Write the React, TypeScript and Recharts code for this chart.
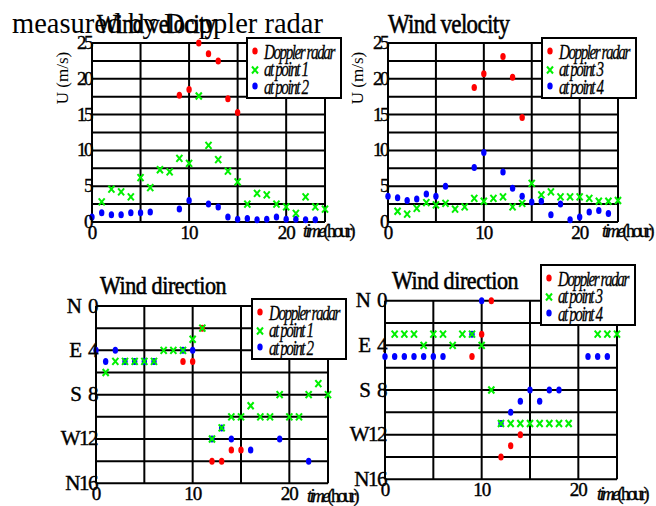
import React from 'react';
import { ScatterChart, Scatter, XAxis, YAxis, ReferenceLine, Legend } from 'recharts';

const W = 656;
const H = 506;
const AXIS_W = 40;
const AXIS_H = 20;
const SERIF = '"Liberation Serif", "Times New Roman", serif';
const RED = '#ff0000';
const GREEN = '#00f000';
const BLUE = '#0000ff';

// axes
const hourTicks = [0, 10, 20];
const hourGrid = [0, 5, 10, 15, 20, 24];
const speedTicks = [0, 5, 10, 15, 20, 25];
const speedGrid = [0, 2.5, 5, 7.5, 10, 12.5, 15, 17.5, 20, 22.5, 25];
const dirTicks = [0, 4, 8, 12, 16];
const dirLabels = ['N  0', 'E  4', 'S  8', 'W12', 'N16'];
const dirGrid = [0, 2, 4, 6, 8, 10, 12, 14, 16];

// wind velocity, left panel (m/s)
const vRadarHoursA = [9, 10, 11, 12, 13, 14, 15];
const vRadarA = [17.7, 18.5, 25, 23.5, 22.5, 17.2, 15.3];
const vPoint1Hours = [1, 2, 3, 4, 5, 6, 7, 8, 9, 10, 11, 12, 13, 14, 15, 16, 17, 18, 19, 20, 21, 22, 23, 24];
const vPoint1 = [2.8, 4.6, 4.2, 3.5, 6.2, 4.8, 7.3, 7.0, 8.9, 8.2, 17.6, 10.7, 8.7, 7.1, 5.6, 2.5, 4.0, 3.8, 2.5, 2.1, 1.2, 3.5, 2.1, 1.8];
const vPoint2Hours = [0, 1, 2, 3, 4, 5, 6, 9, 10, 12, 13, 14, 15, 16, 17, 18, 19, 20, 21, 22, 23];
const vPoint2 = [0.7, 1.3, 1.0, 1.0, 1.3, 1.3, 1.4, 1.8, 3.0, 2.5, 2.1, 0.7, 0.4, 0.5, 0.3, 0.4, 0.7, 0.4, 0.4, 0.3, 0.3];

// wind velocity, right panel (m/s)
const vRadarHoursB = [9, 10, 12, 13, 14];
const vRadarB = [18.8, 20.7, 23.1, 20.2, 14.6];
const vPoint3Hours = [1, 2, 3, 4, 5, 6, 7, 8, 9, 10, 11, 12, 13, 14, 15, 16, 17, 18, 19, 20, 21, 22, 23, 24];
const vPoint3 = [1.5, 1.1, 1.9, 2.7, 2.4, 2.6, 1.8, 2.1, 3.3, 2.9, 3.3, 3.5, 2.1, 2.6, 5.4, 3.8, 4.2, 3.5, 3.5, 3.5, 3.3, 2.9, 2.9, 3.0];
const vPoint4Hours = [0, 1, 2, 3, 4, 5, 6, 9, 10, 12, 13, 14, 15, 16, 17, 18, 19, 20, 21, 22, 23];
const vPoint4 = [3.6, 3.4, 3.0, 3.2, 3.9, 3.6, 5.0, 7.6, 9.7, 7.0, 4.7, 3.6, 2.8, 2.9, 1.0, 2.5, 0.3, 0.7, 1.4, 1.6, 1.2];

// wind direction, left panel (16-point compass index)
const dRadarHoursA = [9, 10, 11, 12, 13, 14, 15];
const dRadarA = [5, 5, 2, 14, 14, 13, 13];
const dPoint1Hours = [1, 2, 3, 4, 5, 6, 7, 8, 9, 10, 11, 12, 13, 14, 15, 16, 17, 18, 19, 20, 21, 22, 23, 24];
const dPoint1 = [6, 5, 5, 5, 5, 5, 4, 4, 4, 3, 2, 12, 11, 10, 10, 9, 10, 10, 8, 10, 10, 8, 7, 8];
const dPoint2Hours = [0, 1, 2, 3, 4, 5, 6, 9, 10, 12, 13, 14, 16, 19, 22];
const dPoint2 = [4, 5, 4, 5, 5, 5, 5, 4, 4, 12, 11, 12, 13, 12, 14];

// wind direction, right panel
const dRadarHoursB = [9, 10, 11, 12, 13, 14];
const dRadarB = [5, 3, 0, 14, 13, 12];
const dPoint3Hours = [1, 2, 3, 4, 5, 6, 7, 8, 9, 10, 11, 12, 13, 14, 15, 16, 17, 18, 19, 22, 23, 24];
const dPoint3 = [3, 3, 3, 4, 3, 3, 4, 3, 3, 4, 8, 11, 11, 11, 11, 11, 11, 11, 11, 3, 3, 3];
const dPoint4Hours = [0, 1, 2, 3, 4, 5, 6, 9, 10, 12, 13, 14, 15, 16, 17, 18, 21, 22, 23];
const dPoint4 = [5, 5, 5, 5, 5, 5, 5, 3, 0, 11, 10, 9, 8, 9, 8, 8, 5, 5, 5];

const toPoints = (hours: number[], values: number[]) => hours.map((x, i) => ({ x, y: values[i] }));

type Series = { name: string; hours: number[]; values: number[]; color: string; cross?: boolean };

const Dot = ({ cx, cy, color }: any) => <ellipse cx={cx} cy={cy} rx={2.7} ry={3.5} fill={color} />;
const Cross = ({ cx, cy, color }: any) => (
  <path
    d={`M${cx - 3},${cy - 3.5}L${cx + 3},${cy + 3.5}M${cx + 3},${cy - 3.5}L${cx - 3},${cy + 3.5}`}
    stroke={color}
    strokeWidth={2}
    fill="none"
  />
);

// squeezed serif text, the original uses a condensed face
function Narrow({ x, y, size, sx, ls = 0, italic = false, weight = 0.25, children }: any) {
  return (
    <text
      transform={`translate(${x},${y}) scale(${sx},1)`}
      fontFamily={SERIF}
      fontSize={size}
      fontStyle={italic ? 'italic' : 'normal'}
      letterSpacing={ls}
      fill="#000"
      stroke="#000"
      strokeWidth={weight}
    >
      {children}
    </text>
  );
}

const XTick = ({ x, y, payload }: any) => (
  <text x={x} y={y + 16.5} textAnchor="middle" fontFamily={SERIF} fontSize={19} letterSpacing={-1} fill="#000" stroke="#000" strokeWidth={0.4}>
    {payload.value}
  </text>
);

const SpeedTick = ({ x, y, payload }: any) => (
  <text x={x - 1} y={y + 6} textAnchor="end" fontFamily={SERIF} fontSize={19} letterSpacing={-2.5} fill="#000" stroke="#000" strokeWidth={0.4}>
    {payload.value}
  </text>
);

const DirTick = ({ x, y, payload }: any) => (
  <text x={x + 1} y={y + 6.5} textAnchor="end" fontFamily={SERIF} fontSize={21} letterSpacing={-1.5} fill="#000" stroke="#000" strokeWidth={0.4} style={{ whiteSpace: 'pre' }}>
    {dirLabels[dirTicks.indexOf(payload.value)]}
  </text>
);

function LegendBox({ series }: { series: Series[] }) {
  return (
    <div style={{ width: 96, height: 62, boxSizing: 'border-box', border: '2px solid #000', background: '#fff' }}>
      <svg width={92} height={58} style={{ display: 'block', overflow: 'hidden' }}>
        {series.map((s, i) => {
          const base = 19.5 + i * 17.5;
          return (
            <g key={s.name}>
              {s.cross ? <Cross cx={7} cy={base - 6} color={s.color} /> : <Dot cx={7} cy={base - 7.5} color={s.color} />}
              <Narrow x={16} y={base} size={21} sx={0.72} ls={-2} italic weight={0.3}>
                {s.name}
              </Narrow>
            </g>
          );
        })}
      </svg>
    </div>
  );
}

function Panel({ box, dir, legendSeries, drawSeries, legendPos }: {
  box: number[];
  dir: boolean;
  legendSeries: Series[];
  drawSeries: Series[];
  legendPos: number[];
}) {
  const [x0, y0, x1, y1] = box;
  const margin = { left: x0 - AXIS_W, top: y0, right: W - x1, bottom: H - y1 - AXIS_H };
  return (
    <div style={{ position: 'absolute', left: 0, top: 0 }}>
      <ScatterChart width={W} height={H} margin={margin}>
        <XAxis
          type="number"
          dataKey="x"
          domain={[0, 24]}
          ticks={hourTicks}
          interval={0}
          height={AXIS_H}
          axisLine={false}
          tickLine={false}
          tickSize={0}
          tickMargin={0}
          tick={XTick}
        />
        <YAxis
          type="number"
          dataKey="y"
          domain={dir ? [0, 16] : [0, 25]}
          reversed={dir}
          ticks={dir ? dirTicks : speedTicks}
          interval={0}
          width={AXIS_W}
          axisLine={false}
          tickLine={false}
          tickSize={0}
          tickMargin={0}
          tick={dir ? DirTick : SpeedTick}
        />
        {(dir ? dirGrid : speedGrid).map((v) => (
          <ReferenceLine key={'h' + v} y={v} stroke="#000" strokeWidth={2} />
        ))}
        {hourGrid.map((h) => (
          <ReferenceLine key={'v' + h} x={h} stroke="#000" strokeWidth={2} />
        ))}
        {drawSeries.map((s) => (
          <Scatter
            key={s.name}
            name={s.name}
            data={toPoints(s.hours, s.values)}
            isAnimationActive={false}
            shape={(p: any) => (s.cross ? <Cross cx={p.cx} cy={p.cy} color={s.color} /> : <Dot cx={p.cx} cy={p.cy} color={s.color} />)}
          />
        ))}
        <Legend
          layout="vertical"
          align="center"
          verticalAlign="middle"
          wrapperStyle={{ left: legendPos[0], top: legendPos[1], width: 96, height: 62 }}
          content={() => <LegendBox series={legendSeries} />}
        />
      </ScatterChart>
    </div>
  );
}

function TimeLabel({ x, y }: { x: number; y: number }) {
  return (
    <text x={x} y={y} fontFamily={SERIF} fontSize={18} letterSpacing={-2.6} fill="#000" stroke="#000" strokeWidth={0.35}>
      <tspan fontStyle="italic">time</tspan>
      <tspan>(hour)</tspan>
    </text>
  );
}

export default function App() {
  const radarA: Series = { name: 'Doppler radar', hours: vRadarHoursA, values: vRadarA, color: RED };
  const p1: Series = { name: 'at point 1', hours: vPoint1Hours, values: vPoint1, color: GREEN, cross: true };
  const p2: Series = { name: 'at point 2', hours: vPoint2Hours, values: vPoint2, color: BLUE };
  const radarB: Series = { name: 'Doppler radar', hours: vRadarHoursB, values: vRadarB, color: RED };
  const p3: Series = { name: 'at point 3', hours: vPoint3Hours, values: vPoint3, color: GREEN, cross: true };
  const p4: Series = { name: 'at point 4', hours: vPoint4Hours, values: vPoint4, color: BLUE };

  const dRadA: Series = { name: 'Doppler radar', hours: dRadarHoursA, values: dRadarA, color: RED };
  const dp1: Series = { name: 'at point 1', hours: dPoint1Hours, values: dPoint1, color: GREEN, cross: true };
  const dp2: Series = { name: 'at point 2', hours: dPoint2Hours, values: dPoint2, color: BLUE };
  const dRadB: Series = { name: 'Doppler radar', hours: dRadarHoursB, values: dRadarB, color: RED };
  const dp3: Series = { name: 'at point 3', hours: dPoint3Hours, values: dPoint3, color: GREEN, cross: true };
  const dp4: Series = { name: 'at point 4', hours: dPoint4Hours, values: dPoint4, color: BLUE };

  return (
    <div style={{ position: 'absolute', left: 0, top: 0, width: W, height: H, background: '#fff' }}>
      <Panel box={[92, 43, 325, 222]} dir={false} legendSeries={[radarA, p1, p2]} drawSeries={[radarA, p2, p1]} legendPos={[246, 36.5]} />
      <Panel box={[388, 43, 618, 222]} dir={false} legendSeries={[radarB, p3, p4]} drawSeries={[radarB, p4, p3]} legendPos={[541, 36.5]} />
      <Panel box={[96, 306, 328, 483.3]} dir={true} legendSeries={[dRadA, dp1, dp2]} drawSeries={[dRadA, dp2, dp1]} legendPos={[251, 298]} />
      <Panel box={[385, 300.7, 617, 479.3]} dir={true} legendSeries={[dRadB, dp3, dp4]} drawSeries={[dRadB, dp4, dp3]} legendPos={[540, 264]} />
      <svg width={W} height={H} style={{ position: 'absolute', left: 0, top: 0, pointerEvents: 'none' }}>
        <text x={12} y={33} fontFamily={SERIF} fontSize={28.5} fill="#000">measured by Doppler radar</text>
        <Narrow x={97} y={33} size={28} sx={0.8} ls={-0.8} weight={0.6}>Wind velocity</Narrow>
        <Narrow x={388} y={33} size={28} sx={0.82} ls={-0.8} weight={0.6}>Wind velocity</Narrow>
        <Narrow x={100} y={294} size={26} sx={0.85} ls={-0.5} weight={0.6}>Wind direction</Narrow>
        <Narrow x={392} y={289} size={26} sx={0.85} ls={-0.5} weight={0.6}>Wind direction</Narrow>
        <text x={68} y={78} transform="rotate(-90 68 78)" textAnchor="middle" fontFamily={SERIF} fontSize={17} fill="#000">U (m/s)</text>
        <text x={363} y={78} transform="rotate(-90 363 78)" textAnchor="middle" fontFamily={SERIF} fontSize={17} fill="#000">U (m/s)</text>
        <TimeLabel x={303} y={237} />
        <TimeLabel x={602} y={237} />
        <TimeLabel x={307} y={502} />
        <TimeLabel x={597} y={500} />
      </svg>
    </div>
  );
}
